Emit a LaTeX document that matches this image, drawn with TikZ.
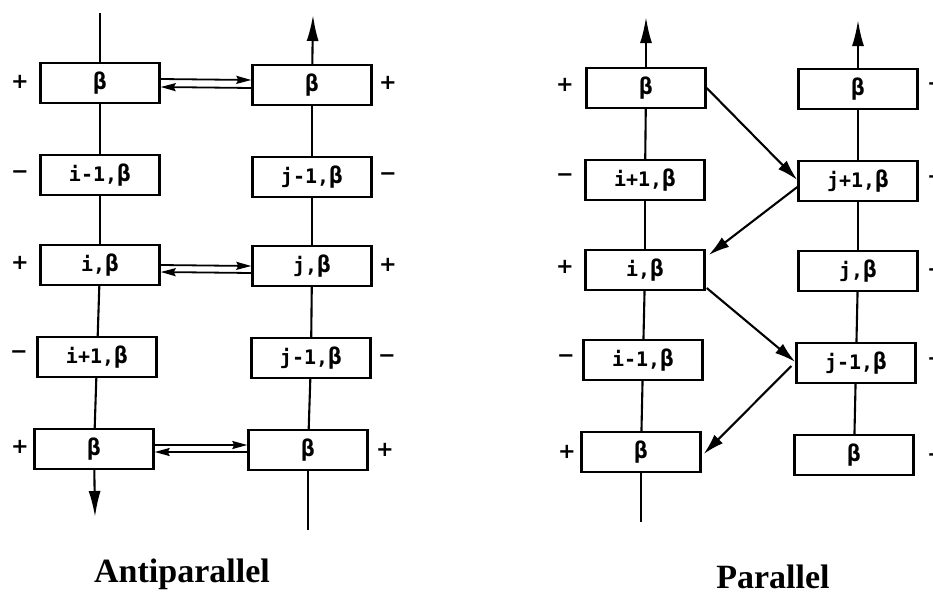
\documentclass[tikz,border=0pt]{standalone}
\usepackage{fontspec}
\setmainfont{Liberation Serif}
\newfontfamily\labelfont{DejaVu Sans Mono}
\newfontfamily\signfont{DejaVu Sans}
\usetikzlibrary{arrows.meta}
% larger beta, as printed in the unit labels
\newcommand\bta{{\fontsize{23}{23}\selectfont β}}
\begin{document}
\begin{tikzpicture}[x=1pt,y=-1pt,
  unit/.style={draw, line width=2.4pt, minimum width=119pt, minimum height=40pt, inner sep=0pt,
    font=\labelfont\bfseries\fontsize{20}{20}\selectfont},
  chain/.style={line width=2.1pt},
  strand/.style={chain, -{Latex[length=26pt,width=12pt]}},
  bond/.style={line width=1.8pt, -{Stealth[length=15pt,width=8pt,inset=2pt]}},
  hop/.style={line width=2.1pt, -{Latex[length=21pt,width=12pt]}},
  sign/.style={font=\signfont\bfseries\fontsize{21}{21}\selectfont},
  title/.style={font=\fontsize{34}{34}\selectfont\bfseries, anchor=base}]
\useasboundingbox (0,0) rectangle (933,592);

% ---------------- Antiparallel ----------------
\node[unit] (a1) at (100,83)  {\bta};
\node[unit] (a2) at (100,175) {i-1,\bta};
\node[unit] (a3) at (100,265) {i,\bta};
\node[unit] (a4) at (97,357)  {i+1,\bta};
\node[unit] (a5) at (94,449)  {\bta};

\node[unit] (b1) at (312,85)  {\bta};
\node[unit] (b2) at (312,177) {j-1,\bta};
\node[unit] (b3) at (312,266) {j,\bta};
\node[unit] (b4) at (311,358) {j-1,\bta};
\node[unit] (b5) at (308,450) {\bta};

\coordinate (aTop) at (100,13);
\coordinate (aEnd) at (95,517);
\coordinate (bStart) at (308,530);
\coordinate (bEnd) at (313,15);

\draw[chain] (aTop) -- (a1);
\draw[chain] (a1) -- (a2);
\draw[chain] (a2) -- (a3);
\draw[chain] (a3) -- (a4);
\draw[chain] (a4) -- (a5);
\draw[strand] (a5) -- (aEnd);

\draw[chain] (bStart) -- (b5);
\draw[chain] (b5) -- (b4);
\draw[chain] (b4) -- (b3);
\draw[chain] (b3) -- (b2);
\draw[chain] (b2) -- (b1);
\draw[strand] (b1) -- (bEnd);

% hydrogen bond pairs
\draw[bond] ([yshift=4pt]a1.east) -- ([yshift=5pt]b1.west);
\draw[bond] ([yshift=-3pt]b1.west) -- ([yshift=-4pt]a1.east);
\draw[bond] ([yshift=0pt]a3.east) -- ([yshift=0pt]b3.west);
\draw[bond] ([yshift=-7pt]b3.west) -- ([yshift=-7pt]a3.east);
\draw[bond] ([yshift=4pt]a5.east) -- ([yshift=5pt]b5.west);
\draw[bond] ([yshift=-2pt]b5.west) -- ([yshift=-3pt]a5.east);

\node[sign] (sa1) at (20,82)  {+};
\node[sign] (sa2) at (20,175) {−};
\node[sign] (sa3) at (20,263) {+};
\node[sign] (sa4) at (19,355) {−};
\node[sign] (sa5) at (20,447) {+};

\node[sign] (sb1) at (388,83)  {+};
\node[sign] (sb2) at (388,177) {−};
\node[sign] (sb3) at (388,265) {+};
\node[sign] (sb4) at (387,359) {−};
\node[sign] (sb5) at (385,450) {+};

\node[title] (t1) at (182,582) {Antiparallel};

% ---------------- Parallel ----------------
\node[unit] (c1) at (646,88)  {\bta};
\node[unit] (c2) at (645,180) {i+1,\bta};
\node[unit] (c3) at (645,270) {i,\bta};
\node[unit] (c4) at (643,360) {i-1,\bta};
\node[unit] (c5) at (641,452) {\bta};

\node[unit] (d1) at (858,89)  {\bta};
\node[unit] (d2) at (858,181) {j+1,\bta};
\node[unit] (d3) at (858,271) {j,\bta};
\node[unit] (d4) at (856,363) {j-1,\bta};
\node[unit] (d5) at (854,455) {\bta};

\coordinate (cStart) at (641,522);
\coordinate (cEnd) at (646,17);
\coordinate (dEnd) at (858,20);

\draw[chain] (cStart) -- (c5);
\draw[chain] (c5) -- (c4);
\draw[chain] (c4) -- (c3);
\draw[chain] (c3) -- (c2);
\draw[chain] (c2) -- (c1);
\draw[strand] (c1) -- (cEnd);

\draw[chain] (d5) -- (d4);
\draw[chain] (d4) -- (d3);
\draw[chain] (d3) -- (d2);
\draw[chain] (d2) -- (d1);
\draw[strand] (d1) -- (dEnd);

% bonds zig-zagging between the strands
\draw[hop] ([yshift=0pt]c1.east) -- ([yshift=1pt]d2.west);
\draw[hop] ([yshift=-6pt]d2.west) -- ([xshift=3pt,yshift=15pt]c3.east);
\draw[hop] ([xshift=1pt,yshift=-18pt]c3.east) -- ([yshift=1pt]d4.west);
\draw[hop] ([xshift=-4pt,yshift=-3pt]d4.west) -- ([xshift=2pt,yshift=-2pt]c5.east);

\node[sign] (sc1) at (565,85)  {+};
\node[sign] (sc2) at (565,178) {−};
\node[sign] (sc3) at (565,267) {+};
\node[sign] (sc4) at (566,359) {−};
\node[sign] (sc5) at (567,452) {+};

\node[sign] (sd1) at (936,87)  {−};
\node[sign] (sd2) at (936,180) {−};
\node[sign] (sd3) at (936,270) {+};
\node[sign] (sd4) at (936,362) {−};
\node[sign] (sd5) at (936,455) {+};

\node[title] (t2) at (773,588) {Parallel};
\end{tikzpicture}
\end{document}
